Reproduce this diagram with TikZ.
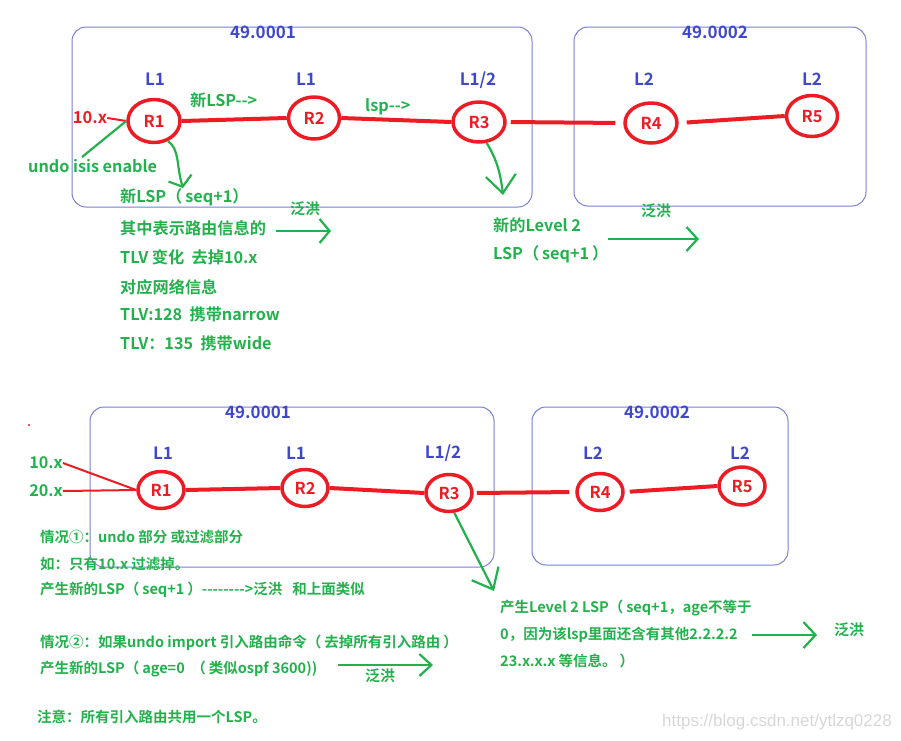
\documentclass[tikz,border=0pt]{standalone}
\usepackage{fontspec}
\setmainfont{Noto Sans CJK SC}[BoldFont={Noto Sans CJK SC Bold}, Ligatures=TeXOff]
\newfontfamily\wmfont{Liberation Sans}
\usetikzlibrary{shapes.geometric,arrows.meta}
\definecolor{pred}{RGB}{237,28,36}
\definecolor{pgreen}{RGB}{34,177,76}
\definecolor{lblue}{RGB}{63,72,204}
\definecolor{boxblue}{RGB}{120,126,214}
\definecolor{wmgray}{RGB}{215,215,215}
% padded full-width parentheses
\newcommand\lpar{（\hspace{3pt}}
\newcommand\rpar{\hspace{3pt}）}
\tikzset{
  area/.style={draw=boxblue, line width=1pt, rounded corners=14pt},
  router/.style={ellipse, draw=pred, line width=3.5pt, text=pred, inner sep=0pt,
    font=\fontsize{16.5}{19}\selectfont\bfseries},
  lvl/.style={text=lblue, inner sep=0pt, font=\fontsize{17}{20}\selectfont\bfseries},
  note/.style={text=pgreen, anchor=west, inner sep=0pt, font=\fontsize{16.2}{19}\selectfont\bfseries},
  bnote/.style={text=pgreen, anchor=west, inner sep=0pt, font=\fontsize{14.5}{17}\selectfont\bfseries},
  flood/.style={text=pgreen, inner sep=0pt, font=\fontsize{15}{17}\selectfont\bfseries},
  rnote/.style={text=pred, inner sep=0pt, font=\fontsize{16.5}{19}\selectfont\bfseries},
  link/.style={draw=pred, line width=4pt},
  thinred/.style={draw=pred, line width=2pt},
  gline/.style={draw=pgreen, line width=2.2pt},
  barb/.style={-{Straight Barb[length=#1, width=24pt, line width=2.2pt]}},
  barb/.default=10pt
}
\begin{document}
\begin{tikzpicture}[x=1pt, y=-1pt]
\useasboundingbox (0,0) rectangle (901,740);

% ---------------- upper diagram ----------------
\draw[area] (72,27) rectangle (532,207);
\draw[area] (574,27) rectangle (866,206);
\node[lvl] (a01) at (263,32) {49.0001};
\node[lvl] (a02) at (715,32) {49.0002};

\node[lvl] (t1) at (155,79) {L1};
\node[lvl] (t2) at (306,79) {L1};
\node[lvl] (t3) at (478,80) {L1/2};
\node[lvl] (t4) at (644,79) {L2};
\node[lvl] (t5) at (812,79) {L2};

\node[router, minimum width=52pt, minimum height=43pt] (a1) at (154,121) {R1};
\node[router, minimum width=51pt, minimum height=42pt] (a2) at (314,118) {R2};
\node[router, minimum width=52pt, minimum height=40pt] (a3) at (479,122) {R3};
\node[router, minimum width=52pt, minimum height=40pt] (a4) at (651,123) {R4};
\node[router, minimum width=51pt, minimum height=41pt] (a5) at (812,116) {R5};

\draw[link] (a1.east) -- (a2.west);
\draw[link] (a2.east) -- (a3.west);
\draw[link, shorten <=4pt, shorten >=8pt] (a3.east) -- (a4.west);
\draw[link, shorten <=8pt] (a4.east) -- (a5.west);

\node[rnote] (tenx) at (90,118) {10.x};
\draw[thinred] (tenx.east) -- (a1.west);

\node[note] (undo) at (28,166) {undo isis enable};
\coordinate (undoTop) at (82,157);
\draw[gline] (undoTop) -- (a1.west);

\node[note] (lspA) at (190,100) {新LSP-->};
\node[note] (lspB) at (365,107) {lsp-->};

% R1 emits its new LSP
\coordinate (dropA) at (183,188);
\draw[gline, barb=9pt] (a1.-55) .. controls (180,150) and (176,165) .. (dropA);

\node[note] (n1) at (120,197) {新LSP\lpar seq+1）};
\node[note] (n2) at (120,228) {其中表示路由信息的};
\node[note] (n3) at (120,257) {TLV 变化\ \ 去掉10.x};
\node[note] (n4) at (120,287) {对应网络信息};
\node[note] (n5) at (120,314) {TLV:128\ \ 携带narrow};
\node[note] (n6) at (120,343) {TLV：135\ \ 携带wide};

\node[flood] (fA) at (305,209) {泛洪};
\coordinate (fAs) at (276,231);
\coordinate (fAe) at (331,231);
\draw[gline, barb=10pt] (fAs) -- (fAe);

% R3 emits a new Level-2 LSP
\coordinate (dropB) at (503,195);
\draw[gline, -{Straight Barb[length=18pt, width=30pt, line width=2.2pt]}] (a3.-70) .. controls (494,155) and (500,168) .. (dropB);

\node[note] (m1) at (493,225) {新的Level 2};
\node[note] (m2) at (493,254) {LSP\lpar seq+1\rpar};

\node[flood] (fB) at (656,211) {泛洪};
\coordinate (fBs) at (608,239);
\coordinate (fBe) at (699,239);
\draw[gline, barb=11pt] (fBs) -- (fBe);

% ---------------- lower diagram ----------------
\fill[pred] (29,425) circle (1.2pt);
\draw[area] (90,407) rectangle (494,567);
\draw[area] (532,407) rectangle (788,565);
\node[lvl] (b01) at (258,412) {49.0001};
\node[lvl] (b02) at (657,412) {49.0002};

\node[lvl] (s1) at (163,453) {L1};
\node[lvl] (s2) at (296,453) {L1};
\node[lvl] (s3) at (443,453) {L1/2};
\node[lvl] (s4) at (593,453) {L2};
\node[lvl] (s5) at (740,453) {L2};

\node[router, minimum width=46pt, minimum height=37pt] (b1) at (161,490) {R1};
\node[router, minimum width=46pt, minimum height=37pt] (b2) at (305,488) {R2};
\node[router, minimum width=46pt, minimum height=37pt] (b3) at (449,493) {R3};
\node[router, minimum width=46pt, minimum height=37pt] (b4) at (600,492) {R4};
\node[router, minimum width=46pt, minimum height=38pt] (b5) at (742,486) {R5};

\draw[link] (b1.east) -- (b2.west);
\draw[link] (b2.east) -- (b3.west);
\draw[link, shorten <=3pt, shorten >=6pt] (b3.east) -- (b4.west);
\draw[link, shorten <=5pt] (b4.east) -- (b5.west);

\node[note, anchor=center] (ten) at (46,463) {10.x};
\node[note, anchor=center] (twenty) at (46,491) {20.x};
\draw[thinred] (ten.east) -- (b1.west);
\draw[thinred] (twenty.east) -- (b1.west);

\node[bnote] (c1) at (40,537) {情况①：undo 部分 或过滤部分};
\node[bnote] (c2) at (40,564) {如：只有10.x 过滤掉。};
\node[bnote] (c3) at (40,590) {产生新的LSP\lpar seq+1\rpar-------->泛洪\ \ \ 和上面类似};
\node[bnote] (c4) at (40,643) {情况②：如果undo import 引入路由命令\lpar 去掉所有引入路由\rpar};
\node[bnote] (c5) at (40,669) {产生新的LSP\lpar age=0\ \ \lpar 类似ospf 3600))};
\node[bnote] (c6) at (37,717) {注意：所有引入路由共用一个LSP。};

\node[flood] (fC) at (380,676) {泛洪};
\coordinate (fCs) at (338,665);
\coordinate (fCe) at (433,665);
\draw[gline, -{Straight Barb[length=12pt, width=22pt, line width=2.2pt]}] (fCs) -- (fCe);

% R3 emits the Level-2 LSP
\coordinate (dropC) at (494,591);
\draw[gline, -{Straight Barb[length=18pt, width=30pt, line width=2.2pt]}] (b3.-75) -- (dropC);

\node[bnote] (d1) at (500,608) {产生Level 2 LSP\lpar seq+1，age不等于};
\node[bnote] (d2) at (500,635) {0，因为该lsp里面还含有其他2.2.2.2};
\node[bnote] (d3) at (500,661) {23.x.x.x 等信息。\rpar};

\node[flood] (fD) at (849,630) {泛洪};
\coordinate (fDs) at (752,635);
\coordinate (fDe) at (817,635);
\draw[gline, -{Straight Barb[length=12pt, width=26pt, line width=2.2pt]}] (fDs) -- (fDe);

\node[text=wmgray, anchor=east, inner sep=0pt, font=\wmfont\fontsize{17}{20}\selectfont] (wm) at (892,722) {https://blog.csdn.net/ytlzq0228};
\end{tikzpicture}
\end{document}
